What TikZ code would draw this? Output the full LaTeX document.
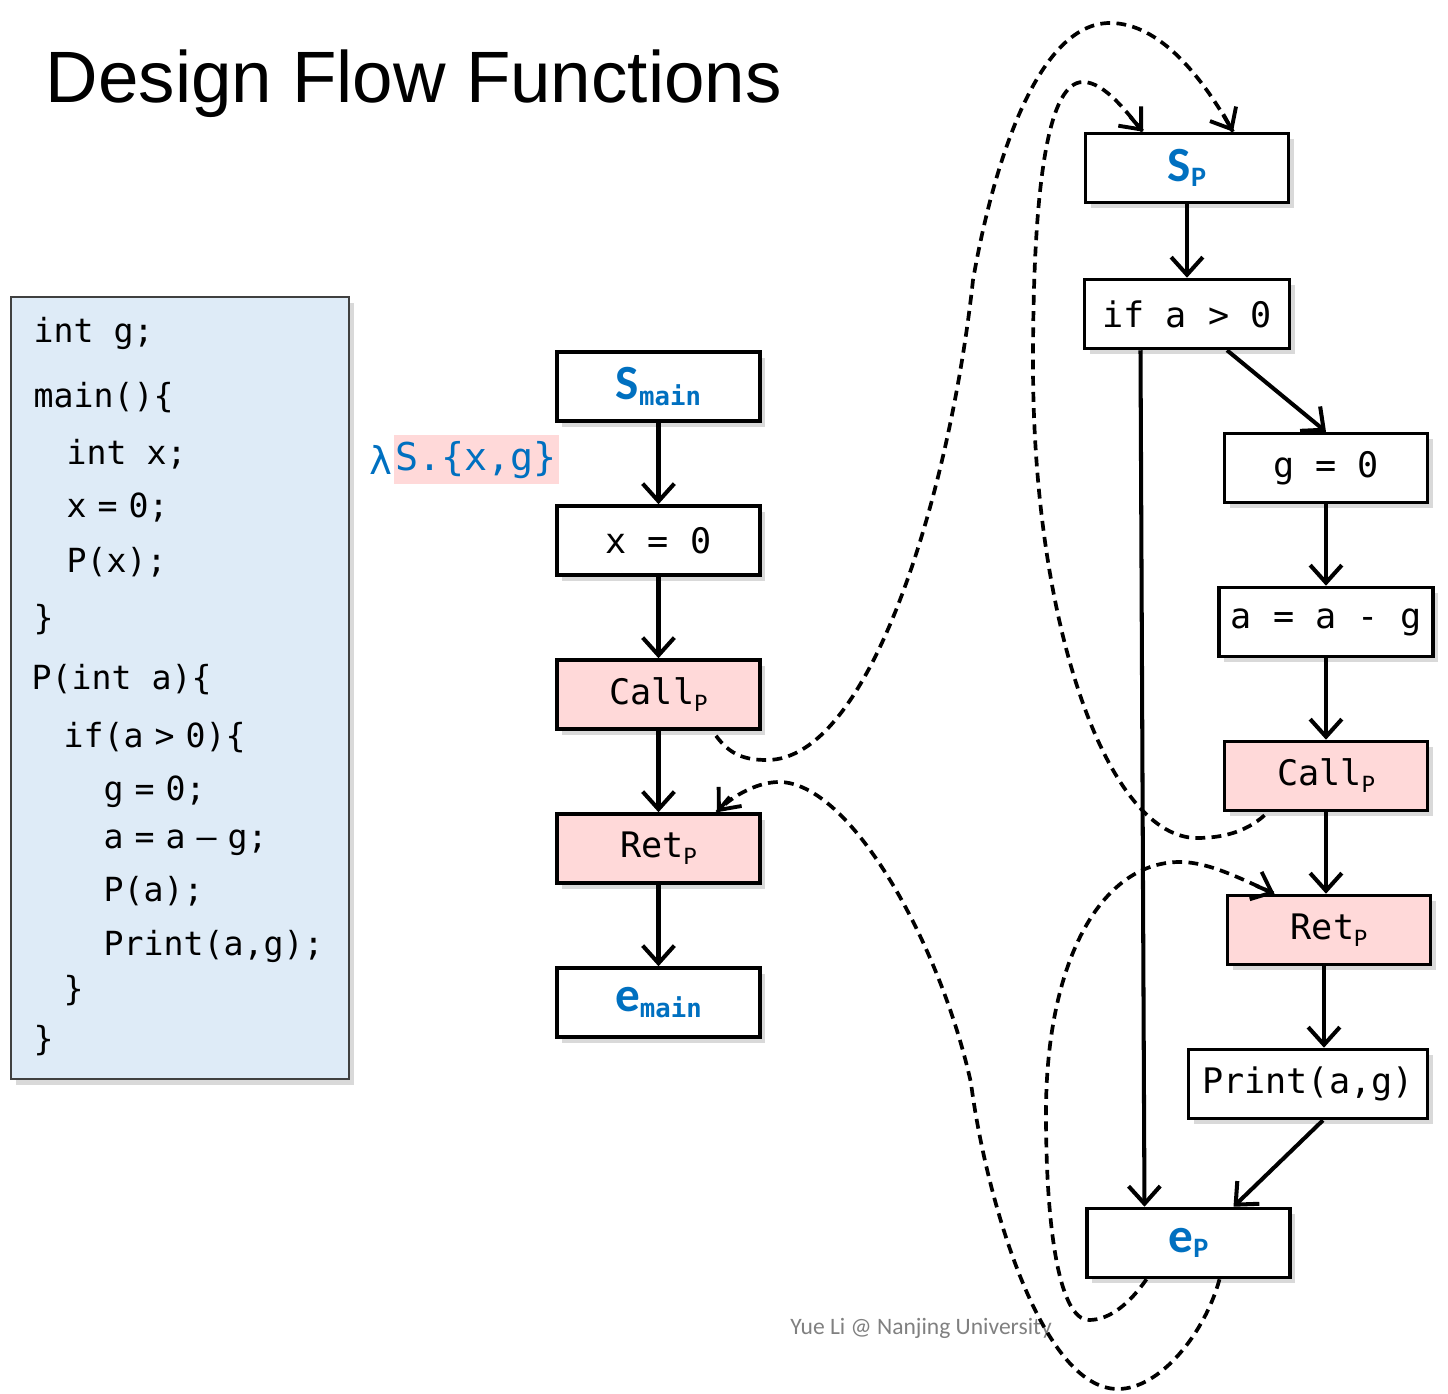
\documentclass[tikz,border=0pt]{standalone}
\usepackage{fontspec}
\setmonofont{DejaVu Sans Mono}
\newfontfamily\titlefont{Liberation Sans}
\newfontfamily\calfont{Carlito}
\usepackage{tikz}
\usetikzlibrary{arrows.meta, positioning, shadows, calc}
\definecolor{flowblue}{RGB}{0,112,192}
\definecolor{callpink}{RGB}{255,217,217}
\definecolor{codeblue}{RGB}{222,235,247}
\newcommand{\csp}{\hspace{0.33em}}
\newcommand{\nodelab}[2]{{\calfont\bfseries\fontsize{14}{14}\selectfont #1}\raisebox{-1.6pt}{#2}}
\newcommand{\psub}{\raisebox{-2pt}{\calfont\fontsize{7.2}{8}\selectfont P}}
\tikzset{
    plainbox/.style={rectangle, draw=black, line width=1pt, fill=white, minimum width=2.03cm, minimum height=0.69cm, text centered, drop shadow={shadow xshift=0.5mm, shadow yshift=-0.6mm, opacity=0.3}, font=\fontsize{10}{12}\ttfamily},
    callbox/.style={plainbox, fill=callpink},
    entrybox/.style={plainbox, text=flowblue},
    codebox/.style={rectangle, draw=black!75, line width=0.8pt, fill=codeblue, drop shadow={shadow xshift=0.5mm, shadow yshift=-0.6mm, opacity=0.3}},
    codeline/.style={anchor=base west, inner sep=0, font=\fontsize{9.45}{11}\ttfamily},
    flow/.style={line width=1.15pt, -{Straight Barb[length=5pt,width=9pt]}},
    dashline/.style={line width=1.05pt, dash pattern=on 2.8pt off 1.8pt},
    dashtip/.style={line width=1.1pt, -{Straight Barb[length=5pt,width=8.5pt]}}
}
\begin{document}
\begin{tikzpicture}[node distance=1.54cm]
        \useasboundingbox (0,0) rectangle (14.48,13.93);
        % Title
        \node (title) [anchor=base west, inner sep=0, font=\titlefont\fontsize{20.7}{24}\selectfont] at (0.45,12.90) {Design Flow Functions};

        % Source code
        \node (code) [codebox, minimum width=3.38cm, minimum height=7.82cm] at (1.80,7.05) {};
        \node (c1) [codeline] at (0.33,10.50) {int g;};
        \node (c2) [codeline] at (0.33,9.85) {main()\{};
        \node (c3) [codeline] at (0.66,9.28) {int x;};
        \node (c4) [codeline] at (0.66,8.75) {x\csp=\csp0;};
        \node (c5) [codeline] at (0.66,8.20) {P(x);};
        \node (c6) [codeline] at (0.33,7.63) {\}};
        \node (c7) [codeline] at (0.31,7.03) {P(int a)\{};
        \node (c8) [codeline] at (0.63,6.45) {if(a\csp>\csp0)\{};
        \node (c9) [codeline] at (1.03,5.93) {g\csp=\csp0;};
        \node (c10) [codeline] at (1.03,5.45) {a\csp=\csp a\csp–\csp g;};
        \node (c11) [codeline] at (1.03,4.91) {P(a);};
        \node (c12) [codeline] at (1.03,4.38) {Print(a,g);};
        \node (c13) [codeline] at (0.63,3.93) {\}};
        \node (c14) [codeline] at (0.33,3.43) {\}};

        % Flow function label
        \node (lam) [anchor=east, inner sep=0, text=flowblue, font=\fontsize{10.9}{12}\ttfamily] at (3.93,9.33) {λ};
        \node (lamset) [right=0pt of lam, fill=callpink, inner xsep=0.5pt, inner ysep=0, minimum height=0.49cm, text=flowblue, font=\fontsize{10.9}{12}\ttfamily] {S.\{x,g\}};

        % main
        \node (smain) [entrybox] at (6.585,10.065) {\nodelab{S}{\fontsize{7.3}{8}\selectfont\bfseries main}};
        \node (x0) [plainbox, below of=smain] {x = 0};
        \node (callm) [callbox, below of=x0] {Call\psub};
        \node (retm) [callbox, below of=callm] {Ret\psub};
        \node (emain) [entrybox, below of=retm] {\nodelab{e}{\fontsize{7.3}{8}\selectfont\bfseries main}};

        % P
        \node (sp) [entrybox] at (11.87,12.25) {\nodelab{S}{\calfont\bfseries\fontsize{8}{8}\selectfont P}};
        \node (ifa) [plainbox, minimum width=2.05cm, below of=sp, yshift=0.08cm] {if a > 0};
        \node (g0) [plainbox, below of=ifa, xshift=1.39cm] {g = 0};
        \node (asub) [plainbox, below of=g0] {a = a - g};
        \node (callp) [callbox, below of=asub] {Call\psub};
        \node (retp) [callbox, below of=callp, xshift=0.03cm] {Ret\psub};
        \node (print) [plainbox, minimum width=2.39cm, below of=retp, xshift=-0.21cm] {Print(a,g)};
        \node (ep) [entrybox, below of=print, xshift=-1.195cm, yshift=-0.05cm] {\nodelab{e}{\calfont\bfseries\fontsize{8}{8}\selectfont P}};

        % Watermark
        \node (credit) [font=\calfont\fontsize{6.7}{8}\selectfont, text=black!50] at (9.21,0.65) {Yue Li @ Nanjing University};

        % Intraprocedural edges
        \draw [flow] (smain) -- (x0);
        \draw [flow] (x0) -- (callm);
        \draw [flow] (callm) -- (retm);
        \draw [flow] (retm) -- (emain);
        \draw [flow] (sp) -- (sp |- ifa.north);
        \draw [flow] ([xshift=4mm]ifa.south) -- (g0.north);
        \draw [flow] ([xshift=-4.65mm]ifa.south) -- ([xshift=-4.4mm]ep.north);
        \draw [flow] (g0) -- (asub);
        \draw [flow] (asub) -- (callp);
        \draw [flow] (callp) -- (callp |- retp.north);
        \draw [flow] ([xshift=-0.5mm]retp.south) -- ([xshift=-0.5mm]retp.south |- print.north);
        \draw [flow] ([xshift=1.5mm]print.south) -- ([xshift=4.5mm]ep.north);

        % Call and return edges
        \coordinate (callin) at ([xshift=4.6mm]sp.north);
        \coordinate (recin) at ([xshift=-4.4mm]sp.north);
        \coordinate (retin) at ([xshift=-5.45mm]retp.north);
        \coordinate (mainin) at ([xshift=5.85mm]retm.north);
        \draw [dashline] ([xshift=5.75mm,yshift=-0.5mm]callm.south) .. controls (7.3,6.38) and (7.45,6.33) .. (7.67,6.33)
            .. controls (8.7,6.33) and (9.5,9.0) .. (9.73,11.13)
            .. controls (9.95,12.38) and (10.4,13.70) .. (11.10,13.70)
            .. controls (11.6,13.70) and (12.03,13.15) .. (callin);
        \draw [dashtip] ($(callin)!2mm!(12.03,13.15)$) -- (callin);
        \draw [dashline] ([xshift=-6.15mm,yshift=-0.3mm]callp.south) .. controls (12.45,5.6) and (12.2,5.55) .. (11.97,5.55)
            .. controls (11.1,5.55) and (10.33,7.6) .. (10.33,10.3)
            .. controls (10.33,12.2) and (10.5,13.11) .. (10.83,13.11)
            .. controls (11.05,13.11) and (11.28,12.79) .. (recin);
        \draw [dashtip] ($(recin)!2mm!(11.28,12.79)$) -- (recin);
        \draw [dashline] ([xshift=-4.2mm]ep.south) .. controls (11.3,0.9) and (11.1,0.73) .. (10.89,0.73)
            .. controls (10.6,0.73) and (10.46,1.6) .. (10.46,2.8)
            .. controls (10.46,4.3) and (11.0,5.31) .. (11.80,5.31)
            .. controls (12.1,5.31) and (12.43,5.13) .. (retin);
        \draw [dashtip] ($(retin)!2mm!(12.43,5.13)$) -- (retin);
        \draw [dashline] ([xshift=3.1mm]ep.south) .. controls (12.05,0.6) and (11.6,0.04) .. (11.18,0.04)
            .. controls (10.4,0.04) and (9.85,2.0) .. (9.71,3.10)
            .. controls (9.4,4.5) and (8.5,6.11) .. (7.79,6.11)
            .. controls (7.55,6.11) and (7.28,5.94) .. (mainin);
        \draw [dashtip] ($(mainin)!2mm!(7.28,5.94)$) -- (mainin);
    \end{tikzpicture}
\end{document}
